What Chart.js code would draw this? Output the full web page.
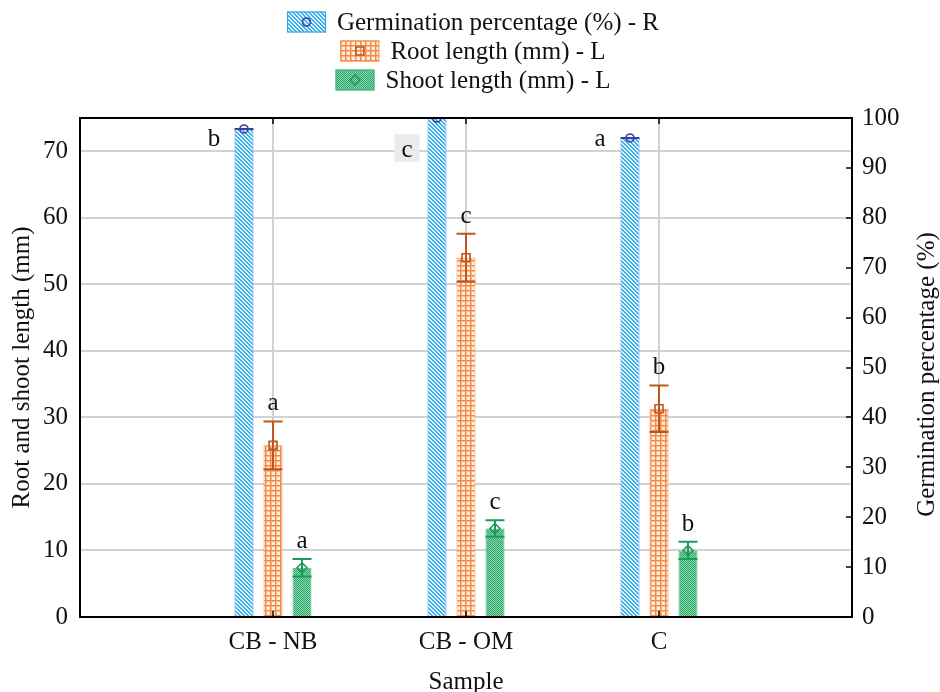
<!DOCTYPE html>
<html>
<head>
<meta charset="utf-8">
<script src="https://cdn.jsdelivr.net/npm/chart.js@4.4.1/dist/chart.umd.min.js"></script>
<style>
  html, body { margin: 0; padding: 0; background: #fff; }
  #wrap { width: 940px; height: 692px; }
</style>
</head>
<body>
<div id="wrap"><canvas id="c" width="940" height="692"></canvas></div>
<script>
// ---- data ----
const categories = ['CB - NB', 'CB - OM', 'C'];
const germination = [97.8, 100, 96];
const germinationSD = [0, 0, 0];
const rootLength = [25.8, 54.0, 31.3];
const rootSD = [3.6, 3.6, 3.5];
const shootLength = [7.4, 13.3, 10.0];
const shootSD = [1.3, 1.25, 1.3];
const germinationLetters = ['b', 'c', 'a'];
const rootLetters = ['a', 'c', 'b'];
const shootLetters = ['a', 'c', 'b'];
const lengthTicks = [0, 10, 20, 30, 40, 50, 60, 70];
const percentTicks = [0, 10, 20, 30, 40, 50, 60, 70, 80, 90, 100];

// ---- styling helpers ----
const FONT = '"Liberation Serif", "Times New Roman", serif';
const canvas = document.getElementById('c');
const ctx0 = canvas.getContext('2d');

function makePattern(size, paint) {
  const t = document.createElement('canvas');
  t.width = t.height = size;
  paint(t.getContext('2d'), size);
  return ctx0.createPattern(t, 'repeat');
}
const blueHatch = makePattern(4, (g, n) => {
  g.fillStyle = '#e4f4fd'; g.fillRect(0, 0, n, n);
  g.fillStyle = '#3aaee8';
  for (let y = 0; y < n; y++) for (let x = 0; x < n; x++)
    if (((x - y) % n + n) % n < 2) g.fillRect(x, y, 1, 1);
});
const orangeGrid = makePattern(5, (g, n) => {
  g.fillStyle = '#fff0e4'; g.fillRect(0, 0, n, n);
  g.fillStyle = '#fbb88e'; g.fillRect(0, 1, n, 1); g.fillRect(1, 0, 1, n);
  g.fillStyle = '#f5873f'; g.fillRect(0, 0, n, 1); g.fillRect(0, 0, 1, n);
});
const greenDots = makePattern(4, (g, n) => {
  g.fillStyle = '#8cd5ae'; g.fillRect(0, 0, n, n);
  g.fillStyle = '#2ea66a';
  for (let y = 0; y < n; y++) for (let x = 0; x < n; x++)
    if ((x + y) % 2 === 0) g.fillRect(x, y, 1, 1);
});

// x axis has an empty slot either side of the three samples
const labels = ['', ...categories, ''];
const pad = arr => [null, ...arr, null];

const series = [
  { label: 'Germination percentage (%) - R', values: germination, sd: germinationSD, letters: germinationLetters,
    axis: 'y1', fill: blueHatch, border: '#3a9be0', ink: '#3b3f9e', marker: 'circle' },
  { label: 'Root length (mm) - L', values: rootLength, sd: rootSD, letters: rootLetters,
    axis: 'y', fill: orangeGrid, border: '#f58a48', ink: '#c0561f', marker: 'square' },
  { label: 'Shoot length (mm) - L', values: shootLength, sd: shootSD, letters: shootLetters,
    axis: 'y', fill: greenDots, border: '#45b77c', ink: '#1e9a57', marker: 'diamond' }
];

function drawMarker(ctx, kind, x, y, color) {
  ctx.save();
  ctx.strokeStyle = color; ctx.lineWidth = 1.6;
  ctx.beginPath();
  if (kind === 'circle') ctx.arc(x, y, 4, 0, Math.PI * 2);
  else if (kind === 'square') ctx.rect(x - 4, y - 4, 8, 8);
  else { ctx.moveTo(x, y - 5); ctx.lineTo(x + 5, y); ctx.lineTo(x, y + 5); ctx.lineTo(x - 5, y); ctx.closePath(); }
  ctx.stroke();
  ctx.restore();
}

// error bars, mean markers, significance letters, frame and inner tick marks
const overlay = {
  id: 'overlay',
  afterDatasetsDraw(chart) {
    const { ctx, chartArea: a, scales } = chart;
    ctx.save();
    ctx.beginPath();
    ctx.rect(a.left, a.top, a.right - a.left, a.bottom - a.top);
    ctx.clip();
    series.forEach((s, di) => {
      const meta = chart.getDatasetMeta(di);
      const ys = scales[s.axis];
      meta.data.forEach((bar, i) => {
        const k = i - 1;
        if (k < 0 || k >= s.values.length) return;
        const v = s.values[k], d = s.sd[k];
        const yHi = ys.getPixelForValue(v + d), yLo = ys.getPixelForValue(v - d);
        const half = bar.width / 2;
        ctx.strokeStyle = s.ink; ctx.lineWidth = 2;
        ctx.beginPath();
        ctx.moveTo(bar.x, yHi); ctx.lineTo(bar.x, yLo);
        ctx.moveTo(bar.x - half, yHi); ctx.lineTo(bar.x + half, yHi);
        ctx.moveTo(bar.x - half, yLo); ctx.lineTo(bar.x + half, yLo);
        ctx.stroke();
        drawMarker(ctx, s.marker, bar.x, bar.y, s.ink);
      });
    });
    ctx.restore();

    // letters
    ctx.save();
    ctx.font = '25px ' + FONT;
    ctx.fillStyle = '#111';
    ctx.textAlign = 'center';
    ctx.textBaseline = 'alphabetic';
    series.forEach((s, di) => {
      const meta = chart.getDatasetMeta(di);
      const ys = scales[s.axis];
      meta.data.forEach((bar, i) => {
        const k = i - 1;
        if (k < 0 || k >= s.values.length) return;
        if (s.axis === 'y1') {
          const x = bar.x - 30;
          if (s.values[k] >= ys.max) {
            ctx.fillStyle = '#ebebeb';
            ctx.fillRect(x - 12.5, a.top + 16, 25, 28);
            ctx.fillStyle = '#111';
            ctx.fillText(s.letters[k], x, a.top + 39);
          } else {
            ctx.fillText(s.letters[k], x, a.top + 28);
          }
        } else {
          const yHi = ys.getPixelForValue(s.values[k] + s.sd[k]);
          ctx.fillText(s.letters[k], bar.x, yHi - 11);
        }
      });
    });
    ctx.restore();

    // frame + tick marks pointing into the plot
    ctx.save();
    ctx.strokeStyle = '#000';
    ctx.lineWidth = 1.5;
    ctx.beginPath();
    categories.forEach((c, k) => {
      const x = Math.round(scales.x.getPixelForValue(k + 1));
      ctx.moveTo(x, a.top); ctx.lineTo(x, a.top + 6);
      ctx.moveTo(x, a.bottom); ctx.lineTo(x, a.bottom - 6);
    });
    percentTicks.forEach(v => {
      const y = Math.round(scales.y1.getPixelForValue(v));
      ctx.moveTo(a.right, y); ctx.lineTo(a.right - 6, y);
    });
    ctx.stroke();
    ctx.lineWidth = 2;
    ctx.strokeRect(a.left, a.top, a.right - a.left, a.bottom - a.top);
    ctx.restore();
  },
  afterDraw(chart) {
    const { ctx, chartArea: a } = chart;
    // right axis title, reading upward
    ctx.save();
    ctx.font = '25px ' + FONT;
    ctx.fillStyle = '#111';
    ctx.textAlign = 'center';
    ctx.textBaseline = 'middle';
    ctx.translate(927, (a.top + a.bottom) / 2 + 7);
    ctx.rotate(-Math.PI / 2);
    ctx.fillText('Germination percentage (%)', 0, 0);
    ctx.restore();

    // legend: one centred row per series
    ctx.save();
    ctx.font = '25px ' + FONT;
    ctx.textBaseline = 'middle';
    ctx.textAlign = 'left';
    const bw = 39, bh = 21, gap = 11, cx = 473;
    series.forEach((s, i) => {
      const yc = 22 + i * 29;
      const tw = ctx.measureText(s.label).width;
      const x0 = cx - (bw + gap + tw) / 2;
      ctx.fillStyle = s.fill;
      ctx.fillRect(x0, yc - bh / 2, bw, bh);
      ctx.strokeStyle = s.border; ctx.lineWidth = 1;
      ctx.strokeRect(x0 + 0.5, yc - bh / 2 + 0.5, bw - 1, bh - 1);
      drawMarker(ctx, s.marker, x0 + bw / 2, yc, s.ink);
      ctx.fillStyle = '#111';
      ctx.fillText(s.label, x0 + bw + gap, yc + 1);
    });
    ctx.restore();
  }
};

const tickFont = { family: FONT, size: 25 };

new Chart(canvas, {
  type: 'bar',
  data: {
    labels,
    datasets: series.map(s => ({
      label: s.label,
      data: pad(s.values),
      yAxisID: s.axis,
      backgroundColor: s.fill,
      borderColor: s.border,
      borderWidth: 1,
      borderSkipped: 'start'
    }))
  },
  options: {
    responsive: false,
    devicePixelRatio: 1,
    animation: false,
    categoryPercentage: 0.4508,
    barPercentage: 0.655,
    layout: { padding: { top: 118, left: 0, right: 0, bottom: 0 } },
    plugins: { legend: { display: false }, tooltip: { enabled: false } },
    scales: {
      x: {
        offset: false,
        grid: { color: '#d2d2d2', lineWidth: 2, drawTicks: false, offset: false },
        border: { display: false },
        ticks: { font: tickFont, color: '#111', padding: 10, autoSkip: false, maxRotation: 0 },
        title: { display: true, text: 'Sample', font: { family: FONT, size: 25, lineHeight: 0.8 }, color: '#111', padding: 0 },
        afterFit: s => { s.height = 75; }
      },
      y: {
        position: 'left',
        min: 0, max: 75,
        grid: { color: '#d2d2d2', lineWidth: 2, drawTicks: false },
        border: { display: false },
        ticks: { font: tickFont, color: '#111', padding: 12 },
        afterBuildTicks: s => { s.ticks = lengthTicks.map(v => ({ value: v })); },
        title: { display: true, text: 'Root and shoot length (mm)', font: { family: FONT, size: 25, lineHeight: 1.2 }, color: '#111', padding: { top: 7, bottom: 0 } },
        afterFit: s => { s.width = 80; }
      },
      y1: {
        position: 'right',
        min: 0, max: 100,
        grid: { drawOnChartArea: false, drawTicks: false },
        border: { display: false },
        ticks: { font: tickFont, color: '#111', padding: 10 },
        afterBuildTicks: s => { s.ticks = percentTicks.map(v => ({ value: v })); },
        afterFit: s => { s.width = 88; }
      }
    }
  },
  plugins: [overlay]
});
</script>
</body>
</html>
